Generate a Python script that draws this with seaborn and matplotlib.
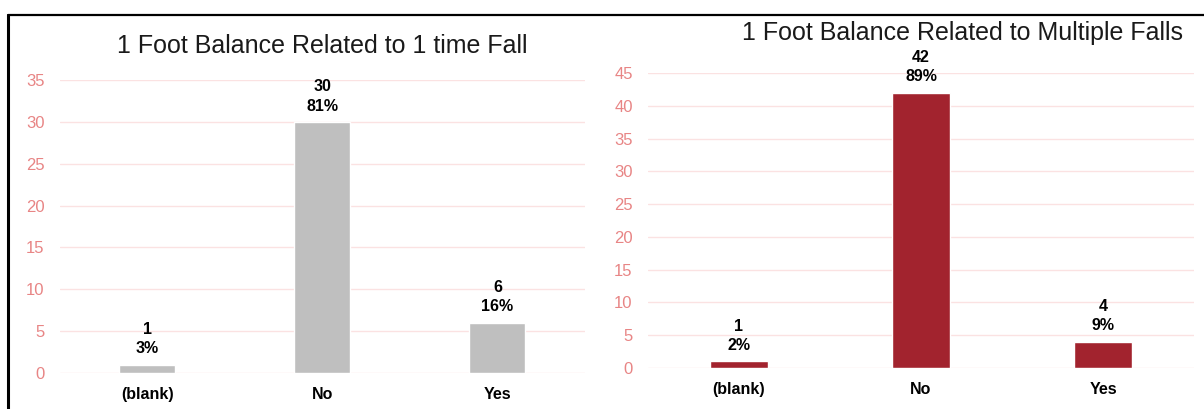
import matplotlib
matplotlib.use("Agg")
import matplotlib.pyplot as plt
import seaborn as sns
import pandas as pd
from matplotlib.lines import Line2D

categories = ["(blank)", "No", "Yes"]
one_time_counts = [1, 30, 6]
multiple_counts = [1, 42, 4]
left_title = "1 Foot Balance Related to 1 time Fall"
right_title = "1 Foot Balance Related to Multiple Falls"
left_yticks = [0, 5, 10, 15, 20, 25, 30, 35]
right_yticks = [0, 5, 10, 15, 20, 25, 30, 35, 40, 45]

sns.set_theme(style="white")
plt.rcParams['font.family'] = ['Liberation Sans', 'DejaVu Sans']

fig = plt.figure(figsize=(12.04, 4.09), dpi=100)
axL = fig.add_axes([0.0498, 0.088, 0.436, 0.7164])
axR = fig.add_axes([0.5382, 0.1002, 0.4535, 0.7213])

tick_color = "#E88585"
grid_color = "#FBE2E2"

def draw(ax, counts, color, yticks):
    df = pd.DataFrame({"cat": categories, "n": counts})
    sns.barplot(data=df, x="cat", y="n", color=color, width=0.32, ax=ax,
                saturation=1, zorder=3)
    ax.set_xlim(-0.5, 2.5)
    ax.set_ylim(0, yticks[-1])
    ax.set_yticks(yticks)
    ax.set_xlabel("")
    ax.set_ylabel("")
    for s in ax.spines.values():
        s.set_visible(False)
    ax.yaxis.grid(True, color=grid_color, linewidth=1.0, zorder=0)
    ax.set_axisbelow(True)
    ax.tick_params(axis="y", colors=tick_color, labelsize=12, length=0, pad=11)
    ax.tick_params(axis="x", colors="black", labelsize=11.5, length=0, pad=10)
    for lab in ax.get_xticklabels():
        lab.set_fontweight("bold")
    total = sum(counts)
    for i, v in enumerate(counts):
        pct = round(100 * v / total)
        ax.annotate(f"{v}\n{pct}%", xy=(i, v), xytext=(0, 6),
                    textcoords="offset points", ha="center", va="bottom",
                    fontsize=11.5, fontweight="bold", color="black",
                    linespacing=1.35)

draw(axL, one_time_counts, "#BFBFBF", left_yticks)
draw(axR, multiple_counts, "#A2232E", right_yticks)

fig.text(322 / 1204, 1 - 46 / 409, left_title, ha="center", va="center",
         fontsize=18, color="#1a1a1a")
fig.text(963 / 1204, 1 - 33 / 409, right_title, ha="center", va="center",
         fontsize=18, color="#1a1a1a")

fig.add_artist(Line2D([7.5 / 1204, 1.0], [1 - 14.5 / 409, 1 - 14.5 / 409],
                      transform=fig.transFigure, color="black", linewidth=1.6))
fig.add_artist(Line2D([7.5 / 1204, 7.5 / 1204], [0, 1 - 14.5 / 409],
                      transform=fig.transFigure, color="black", linewidth=2.2))

fig.savefig("out.png", dpi=100)
